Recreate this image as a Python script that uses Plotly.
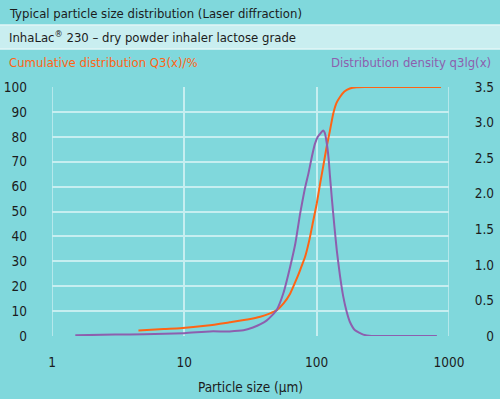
import plotly.graph_objects as go

# ---- data ----
cum_x = [4.5, 7, 9.3, 15, 22, 30, 37.5, 44, 50, 56, 63, 70, 75, 82, 88, 94, 100,
         106, 112, 119, 126, 133, 141, 150, 162, 178, 200, 230, 400, 870]
cum_y = [2.2, 2.8, 3.1, 4.2, 5.5, 6.6, 7.7, 9.0, 10.4, 13, 17, 22.5, 26.5, 32, 38.5, 46, 53,
         61, 68, 76, 82.5, 89, 93.5, 96, 98.2, 99.4, 99.9, 100, 100, 100]

dens_x = [1.5, 3, 5, 10, 15.6, 22, 28, 33, 38, 42, 46, 50, 56, 63, 69, 75, 81, 87, 92, 97,
          102, 108, 112, 115, 119, 123, 126, 130, 136, 142, 150, 159, 168, 178, 195, 225,
          260, 400, 810]
dens_y = [0.01, 0.02, 0.025, 0.04, 0.065, 0.065, 0.08, 0.12, 0.17, 0.22, 0.29, 0.37, 0.60,
          0.97, 1.3, 1.72, 2.05, 2.3, 2.52, 2.70, 2.80, 2.86, 2.89, 2.86, 2.72, 2.50, 2.25,
          1.95, 1.55, 1.2, 0.85, 0.55, 0.35, 0.2, 0.08, 0.02, 0.0, 0.0, 0.0]

x_ticks = [1, 10, 100, 1000]
y_ticks = list(range(0, 101, 10))
y2_ticks = [0, 0.5, 1.0, 1.5, 2.0, 2.5, 3.0, 3.5]
y2_labels = ["0", "0.5", "1.0", "1.5", "2.0", "2.5", "3.0", "3.5"]

title1 = "Typical particle size distribution (Laser diffraction)"
title2 = "InhaLac<sup>®</sup> 230 – dry powder inhaler lactose grade"
left_label = "Cumulative distribution Q3(x)/%"
right_label = "Distribution density q3lg(x)"
x_title = "Particle size (µm)"

# ---- style ----
BG = "#80d8dc"
BAND = "#c9eef0"
GRID = "#c6eef0"
ORANGE = "#ff6414"
PURPLE = "#8d5fae"
TEXT = "#1c1c1c"
FONT = "Liberation Sans Narrow, DejaVu Sans Condensed, Arial Narrow, sans-serif"

W, H = 500, 399
L, R, T, B = 52, 6, 87, 63
PW = W - L - R
PH = H - T - B


def px(xp):
    return (xp - L) / PW


def py(yp):
    return (H - B - yp) / PH


fig = go.Figure()
fig.add_trace(go.Scatter(x=cum_x, y=cum_y, mode="lines",
                         line=dict(color=ORANGE, width=2, shape="spline", smoothing=0.5),
                         hoverinfo="skip", showlegend=False))
fig.add_trace(go.Scatter(x=dens_x, y=dens_y, yaxis="y2", mode="lines",
                         line=dict(color=PURPLE, width=2, shape="spline", smoothing=0.5),
                         hoverinfo="skip", showlegend=False))

shapes = [
    dict(type="rect", xref="paper", yref="paper", x0=px(0), x1=px(W), y0=py(49), y1=py(25),
         fillcolor=BAND, line=dict(width=0), layer="below"),
    dict(type="line", xref="paper", yref="paper", x0=px(0), x1=px(W), y0=py(25), y1=py(25),
         line=dict(color="#e2f6f7", width=1.5)),
    dict(type="line", xref="paper", yref="paper", x0=px(0), x1=px(W), y0=py(49), y1=py(49),
         line=dict(color="#e2f6f7", width=1.5)),
    dict(type="line", xref="x", yref="y", x0=1, x1=1, y0=0, y1=100,
         line=dict(color=GRID, width=1.5), layer="below"),
    dict(type="line", xref="x", yref="y", x0=1000, x1=1000, y0=0, y1=100,
         line=dict(color=GRID, width=1.5), layer="below"),
]

ann = [
    dict(text=title1, x=px(7), y=py(13), xanchor="left", yanchor="middle", font=dict(size=13, color=TEXT)),
    dict(text=title2, x=px(7), y=py(37), xanchor="left", yanchor="middle", font=dict(size=13, color=TEXT)),
    dict(text=left_label, x=px(7), y=py(62), xanchor="left", yanchor="middle", font=dict(size=13, color=ORANGE)),
    dict(text=right_label, x=px(493), y=py(62), xanchor="right", yanchor="middle", font=dict(size=13, color=PURPLE)),
]
for a in ann:
    a.update(xref="paper", yref="paper", showarrow=False)

fig.update_layout(
    width=W, height=H, autosize=False,
    margin=dict(l=L, r=R, t=T, b=B, pad=0, autoexpand=False),
    paper_bgcolor=BG, plot_bgcolor=BG,
    font=dict(family=FONT, size=13.5, color=TEXT),
    shapes=shapes, annotations=ann,
    xaxis=dict(type="log", range=[0, 3], domain=[0, (449 - L) / PW], tickvals=x_ticks,
               ticktext=[str(v) for v in x_ticks], showgrid=True, gridcolor=GRID, gridwidth=1.5,
               showline=False, zeroline=False, ticks="", ticklabelstandoff=16, automargin=False,
               title=dict(text=x_title, standoff=14, font=dict(size=13.5))),
    yaxis=dict(range=[0, 100], tickvals=y_ticks, showgrid=True, gridcolor=GRID, gridwidth=1.5,
               zeroline=False, showline=False, ticks="", ticklabelstandoff=24, automargin=False),
    yaxis2=dict(range=[0, 3.5], tickvals=y2_ticks, ticktext=y2_labels, overlaying="y",
                anchor="free", position=1, side="left", showgrid=False, zeroline=False,
                showline=False, ticks="", ticklabelstandoff=0, automargin=False),
)

fig.write_html("out.html", config={"displayModeBar": False, "responsive": False},
               post_script="document.body.style.margin='0';document.body.style.padding='0';")
